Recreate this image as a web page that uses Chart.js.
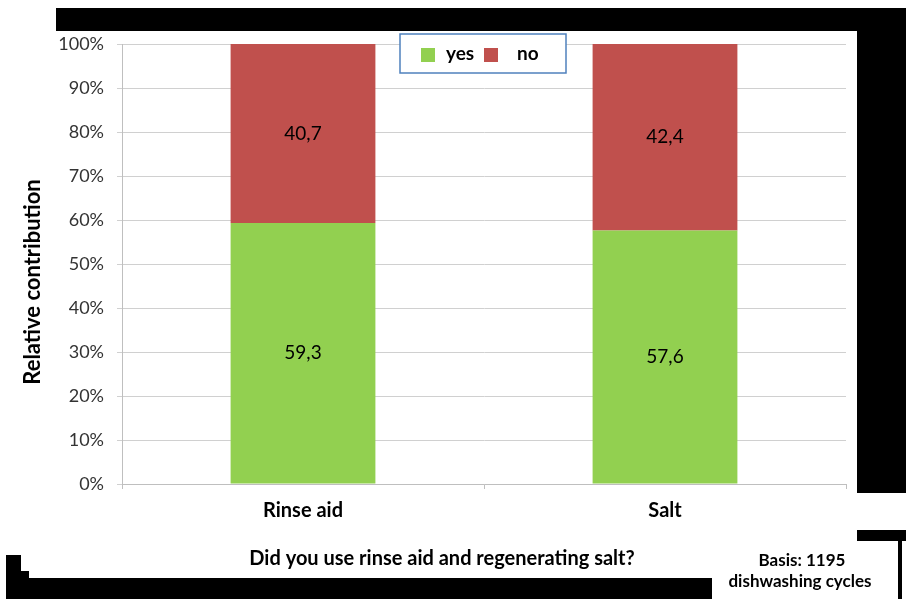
<!DOCTYPE html>
<html>
<head>
<meta charset="utf-8">
<script src="https://cdn.jsdelivr.net/npm/chart.js@4.4.1/dist/chart.umd.min.js"></script>
<style>
    html, body { margin: 0; padding: 0; background: #fff; }
    #contenedor { width: 906px; height: 599px; position: relative; }
</style>
</head>
<body>
<div id="contenedor"><canvas id="graficoEnjuague"></canvas></div>
<script>
const categorias = ["Rinse aid", "Salt"];
const valoresSi = [59.3, 57.6];
const valoresNo = [40.7, 42.4];
const etiquetasSeries = ["yes", "no"];
const coloresSeries = ["#92D050", "#C0504D"];
const ticksY = [0, 10, 20, 30, 40, 50, 60, 70, 80, 90, 100];
const tituloEjeX = "Did you use rinse aid and regenerating salt?";
const tituloEjeY = "Relative contribution";
const notaBase = ["Basis: 1195", "dishwashing cycles"];

const fuente = "Lato, 'Open Sans', sans-serif";

// fondo blanco y los bloques negros del marco
const pluginMarco = {
    id: "marco",
    beforeDraw(chart) {
        const ctx = chart.ctx;
        ctx.save();
        ctx.fillStyle = "#fff";
        ctx.fillRect(0, 0, chart.width, chart.height);
        ctx.fillStyle = "#000";
        ctx.fillRect(56, 8, 850, 23);
        ctx.fillRect(857, 8, 49, 485);
        ctx.beginPath();
        ctx.moveTo(6, 555);
        ctx.lineTo(21, 555);
        ctx.lineTo(21, 571);
        ctx.lineTo(29, 571);
        ctx.lineTo(29, 578);
        ctx.lineTo(712, 578);
        ctx.lineTo(712, 599);
        ctx.lineTo(6, 599);
        ctx.closePath();
        ctx.fill();
        ctx.fillRect(857, 530, 49, 11);
        ctx.fillRect(898, 530, 4, 69);
        ctx.restore();
    },
};

// valores dentro de cada segmento
const pluginValores = {
    id: "valores",
    afterDatasetsDraw(chart) {
        const ctx = chart.ctx;
        ctx.save();
        ctx.font = "19px " + fuente;
        ctx.fillStyle = "#000";
        ctx.textAlign = "center";
        ctx.textBaseline = "middle";
        chart.data.datasets.forEach((ds, i) => {
            chart.getDatasetMeta(i).data.forEach((barra, j) => {
                const y = (barra.y + barra.base) / 2;
                ctx.fillText(ds.data[j].toFixed(1).replace(".", ","), barra.x, y);
            });
        });
        ctx.restore();
    },
};

// leyenda, titulos y nota
const pluginTextos = {
    id: "textos",
    afterDraw(chart) {
        const ctx = chart.ctx;
        ctx.save();

        ctx.fillStyle = "#fff";
        ctx.fillRect(400, 34, 166, 39);
        ctx.strokeStyle = "#4F81BD";
        ctx.lineWidth = 1.5;
        ctx.strokeRect(400, 34, 166, 39);
        ctx.font = "bold 19px " + fuente;
        ctx.textBaseline = "middle";
        ctx.textAlign = "left";
        const posiciones = [421, 484];
        chart.data.datasets.forEach((ds, i) => {
            ctx.fillStyle = ds.backgroundColor;
            ctx.fillRect(posiciones[i], 48, 14, 14);
            ctx.fillStyle = "#000";
            ctx.fillText(ds.label, posiciones[i] + (i === 0 ? 25 : 33), 54);
        });

        ctx.fillStyle = "#000";
        ctx.textAlign = "center";
        ctx.font = "bold 20px " + fuente;
        ctx.fillText(tituloEjeX, 442, 559);

        ctx.font = "bold 17px " + fuente;
        ctx.fillText(notaBase[0], 802, 561);
        ctx.fillText(notaBase[1], 800, 582);

        ctx.translate(33, 282);
        ctx.rotate(-Math.PI / 2);
        ctx.font = "bold 22px " + fuente;
        ctx.fillText(tituloEjeY, 0, 0);
        ctx.restore();
    },
};

const dataGrafico = {
    labels: categorias,
    datasets: [
        {
            label: etiquetasSeries[0],
            backgroundColor: coloresSeries[0],
            data: valoresSi,
        },
        {
            label: etiquetasSeries[1],
            backgroundColor: coloresSeries[1],
            data: valoresNo,
        },
    ],
};

const configGrafico = {
    type: "bar",
    data: dataGrafico,
    options: {
        responsive: false,
        animation: false,
        devicePixelRatio: 1,
        layout: {
            padding: { top: 44, right: 60, bottom: 0, left: 0 },
        },
        datasets: {
            bar: {
                barPercentage: 0.4,
                categoryPercentage: 1,
            },
        },
        plugins: {
            legend: { display: false },
            tooltip: { enabled: false },
        },
        scales: {
            x: {
                stacked: true,
                afterFit: (scale) => { scale.height = 115; },
                grid: {
                    display: true,
                    drawOnChartArea: false,
                    offset: true,
                    tickLength: 5,
                    color: "#bfbfbf",
                },
                border: { color: "#bfbfbf" },
                ticks: {
                    color: "#000",
                    padding: 10,
                    font: { family: fuente, size: 20, weight: "bold" },
                },
            },
            y: {
                stacked: true,
                min: 0,
                max: 100,
                afterFit: (scale) => { scale.width = 122; },
                afterBuildTicks: (scale) => {
                    scale.ticks = ticksY.map((v) => ({ value: v }));
                },
                grid: {
                    color: "#d0d0d0",
                    tickLength: 5,
                },
                border: { color: "#bfbfbf" },
                ticks: {
                    color: "#333",
                    padding: 13,
                    font: { family: fuente, size: 18 },
                    callback: (v) => v + "%",
                },
            },
        },
    },
    plugins: [pluginMarco, pluginValores, pluginTextos],
};

const canvas = document.getElementById("graficoEnjuague");
canvas.width = 906;
canvas.height = 599;
const chartEnjuague = new Chart(canvas, configGrafico);
</script>
</body>
</html>
